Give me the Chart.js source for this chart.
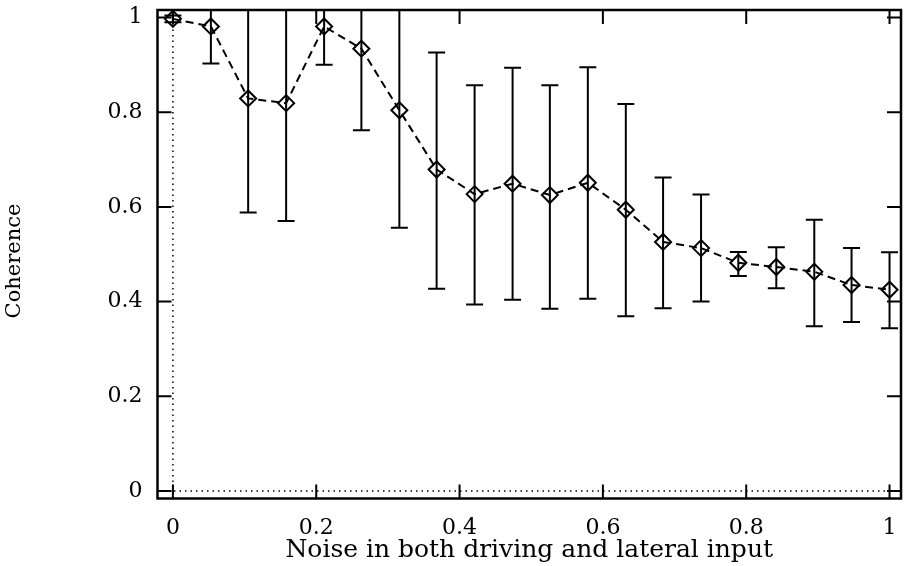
<!DOCTYPE html>
<html>
<head>
<meta charset="utf-8">
<script src="https://cdn.jsdelivr.net/npm/chart.js@4"></script>
<style>
  html, body { margin: 0; padding: 0; background: #fff; }
  #wrap { width: 911px; height: 566px; }
</style>
</head>
<body>
<div id="wrap"><canvas id="myChart"></canvas></div>
<script>
const noise = [0, 0.053, 0.105, 0.158, 0.211, 0.263, 0.316, 0.368, 0.421, 0.474,
               0.526, 0.579, 0.632, 0.684, 0.737, 0.789, 0.842, 0.895, 0.947, 1];
const coherence = [0.997, 0.981, 0.829, 0.819, 0.981, 0.934, 0.804, 0.679, 0.627, 0.649,
                   0.625, 0.651, 0.594, 0.526, 0.513, 0.482, 0.473, 0.463, 0.435, 0.425];
const lower = [0.99, 0.903, 0.588, 0.570, 0.900, 0.762, 0.556, 0.427, 0.394, 0.404,
               0.385, 0.406, 0.369, 0.386, 0.400, 0.454, 0.428, 0.348, 0.357, 0.344];
const upper = [1.004, 1.06, 1.07, 1.07, 1.06, 1.106, 1.05, 0.926, 0.857, 0.894,
               0.857, 0.895, 0.817, 0.662, 0.626, 0.505, 0.515, 0.573, 0.513, 0.504];
const tickValues = [0, 0.2, 0.4, 0.6, 0.8, 1];

const serif = "'DejaVu Serif', serif";

// frame, inward ticks, dotted zero lines, error bars, y title
const framePlugin = {
  id: "frame",
  beforeDatasetsDraw(chart) {
    const { ctx, chartArea: a, scales: { x, y } } = chart;
    ctx.save();
    ctx.beginPath();
    ctx.rect(a.left, a.top, a.right - a.left, a.bottom - a.top);
    ctx.clip();
    // dotted zero lines
    ctx.strokeStyle = "#000";
    ctx.lineWidth = 1.5;
    ctx.setLineDash([1.5, 4]);
    ctx.beginPath();
    ctx.moveTo(x.getPixelForValue(0), a.bottom);
    ctx.lineTo(x.getPixelForValue(0), a.top);
    ctx.moveTo(a.left, y.getPixelForValue(0));
    ctx.lineTo(a.right, y.getPixelForValue(0));
    ctx.stroke();
    // error bars
    ctx.setLineDash([]);
    ctx.lineWidth = 2;
    ctx.beginPath();
    for (let i = 0; i < noise.length; i++) {
      const px = x.getPixelForValue(noise[i]);
      const lo = y.getPixelForValue(lower[i]);
      const hi = y.getPixelForValue(upper[i]);
      ctx.moveTo(px, lo);
      ctx.lineTo(px, hi);
      ctx.moveTo(px - 8.5, lo);
      ctx.lineTo(px + 8.5, lo);
      ctx.moveTo(px - 8.5, hi);
      ctx.lineTo(px + 8.5, hi);
    }
    ctx.stroke();
    ctx.restore();
  },
  afterDatasetsDraw(chart) {
    const { ctx, chartArea: a, scales: { x, y } } = chart;
    const len = 14;
    ctx.save();
    ctx.strokeStyle = "#000";
    ctx.lineWidth = 2;
    ctx.beginPath();
    tickValues.forEach((v) => {
      const px = x.getPixelForValue(v);
      const py = y.getPixelForValue(v);
      ctx.moveTo(px, a.bottom);
      ctx.lineTo(px, a.bottom - len);
      ctx.moveTo(px, a.top);
      ctx.lineTo(px, a.top + len);
      ctx.moveTo(a.left, py);
      ctx.lineTo(a.left + len, py);
      ctx.moveTo(a.right, py);
      ctx.lineTo(a.right - len, py);
    });
    ctx.stroke();
    ctx.lineWidth = 2.5;
    ctx.strokeRect(a.left, a.top, a.right - a.left, a.bottom - a.top);
    // y axis title
    ctx.translate(15, 261);
    ctx.rotate(-Math.PI / 2);
    ctx.fillStyle = "#000";
    ctx.font = "21px " + serif;
    ctx.textAlign = "center";
    ctx.textBaseline = "middle";
    ctx.fillText("Coherence", 0, 0);
    ctx.restore();
  },
};

const ctx = document.getElementById("myChart");

new Chart(ctx, {
  type: "line",
  data: {
    datasets: [
      {
        data: noise.map((n, i) => ({ x: n, y: coherence[i] })),
        borderColor: "#000",
        borderWidth: 2,
        borderDash: [8, 5],
        tension: 0,
        fill: false,
        pointStyle: "rectRot",
        pointRadius: 8,
        pointBorderWidth: 2,
        pointBorderColor: "#000",
        pointBackgroundColor: "rgba(0,0,0,0)",
      },
    ],
  },
  options: {
    responsive: true,
    maintainAspectRatio: false,
    animation: false,
    layout: { padding: { top: 6, right: 6, left: 0, bottom: 0 } },
    plugins: {
      legend: { display: false },
      tooltip: { enabled: false },
    },
    scales: {
      x: {
        type: "linear",
        min: -0.0215,
        max: 1.016,
        afterBuildTicks: (s) => { s.ticks = tickValues.map((v) => ({ value: v })); },
        afterFit: (s) => {
          s.height = 67.5;
          s.paddingLeft = 0;
          s.paddingRight = 0;
        },
        grid: { display: false, drawTicks: false },
        border: { display: false },
        ticks: {
          padding: 17,
          color: "#000",
          maxRotation: 0,
          font: { family: serif, size: 22 },
          callback: (v) => String(Math.round(v * 10) / 10),
        },
        title: {
          display: true,
          text: "Noise in both driving and lateral input",
          color: "#000",
          font: { family: serif, size: 25 },
          padding: { top: 0, bottom: 1 },
        },
      },
      y: {
        type: "linear",
        min: -0.0157,
        max: 1.0157,
        afterBuildTicks: (s) => { s.ticks = tickValues.map((v) => ({ value: v })); },
        afterFit: (s) => {
          s.width = 157.5;
          s.paddingTop = 0;
          s.paddingBottom = 0;
        },
        grid: { display: false, drawTicks: false },
        border: { display: false },
        ticks: {
          padding: 15,
          color: "#000",
          font: { family: serif, size: 22 },
          callback: (v) => String(Math.round(v * 10) / 10),
        },
      },
    },
  },
  plugins: [framePlugin],
});
</script>
</body>
</html>
